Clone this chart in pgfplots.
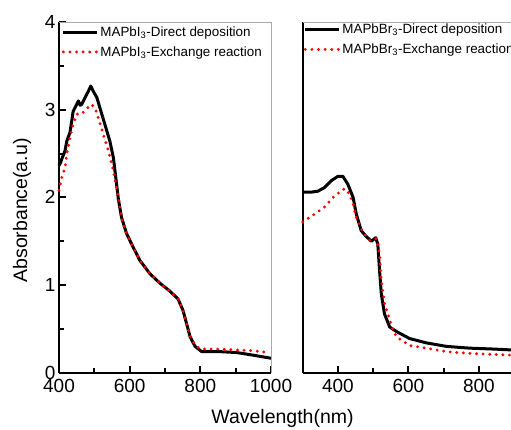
\documentclass[border=0pt]{standalone}
\usepackage{pgfplots}
\pgfplotsset{compat=1.18}
\usepackage{fontspec}
\setmainfont{Liberation Sans}
\definecolor{framegray}{RGB}{170,170,170}
\pgfplotsset{
  panel/.style={
    scale only axis, height=350.7pt,
    ymin=0, ymax=4,
    axis x line*=bottom, axis y line*=left,
    axis line style={line width=2.3pt,-},
    tick align=inside,
    major tick length=7pt, minor tick length=4.5pt,
    every tick/.style={black, line width=2pt},
    /pgf/number format/assume math mode=true,
    /pgf/number format/1000 sep={},
    tick label style={font=\fontsize{19}{19}\selectfont},
    xticklabel style={yshift=-2.5pt},
    clip=false,
    legend cell align=left,
    legend image code/.code={\draw[##1] (0pt,0pt) -- (34pt,0pt);},
    legend style={draw=none, fill=none, inner sep=0pt, row sep=0pt,
      font=\fontsize{13.4}{14}\selectfont,
      nodes={inner xsep=1.5pt, inner ysep=4.3pt}},
  },
  blk/.style={black, line width=3pt, line join=round},
  rdd/.style={red, line width=3.2pt, line cap=round, dash pattern=on 0pt off 6.6pt},
}
\begin{document}
\begin{tikzpicture}[x=1pt,y=1pt]
\path[use as bounding box] (0,0) rectangle (511,429);
% left panel
\begin{axis}[panel, at={(59pt,56.3pt)}, anchor=south west, width=212pt,
  xmin=400, xmax=1000,
  xtick={400,600,800,1000}, minor xtick={500,700,900},
  ytick={0,1,2,3,4}, minor ytick={0.5,1.5,2.5,3.5},
  legend style={at={(rel axis cs:0.012,1.0)}, anchor=north west}]
\addplot[blk] coordinates {
(400,2.36)(405,2.40)(408,2.44)(417,2.53)(422,2.64)(431,2.74)(436,2.87)(440,2.98)
(450,3.06)(455,3.10)(460,3.05)(464,3.06)(474,3.14)(483,3.21)(490,3.27)(497,3.21)
(507,3.14)(521,2.95)(530,2.83)(544,2.64)(554,2.45)(560,2.25)(568,1.98)(577,1.77)
(591,1.59)(610,1.43)(629,1.28)(657,1.13)(686,1.02)(714,0.93)(737,0.84)(751,0.71)
(761,0.56)(771,0.41)(785,0.30)(804,0.24)(856,0.24)(903,0.23)(949,0.20)(1000,0.165)};
\addlegendentry{MAPbI\textsubscript{3}-Direct deposition}
\addplot[rdd] coordinates {
(400,2.08)(405,2.18)(410,2.26)(417,2.33)(422,2.49)(431,2.68)(440,2.83)(450,2.95)
(464,2.95)(478,3.01)(492,3.06)(502,3.02)(511,2.91)(525,2.72)(540,2.53)(554,2.30)
(568,2.00)(577,1.77)(591,1.59)(610,1.43)(629,1.28)(657,1.13)(686,1.02)(714,0.93)
(737,0.84)(751,0.71)(761,0.56)(771,0.42)(785,0.32)(793,0.29)(810,0.27)(856,0.27)
(900,0.26)(949,0.25)(990,0.23)};
\addlegendentry{MAPbI\textsubscript{3}-Exchange reaction}
\draw[framegray, line width=0.8pt] (rel axis cs:0,1) -- (rel axis cs:1,1) -- (rel axis cs:1,0);
\end{axis}
% right panel
\begin{axis}[panel, at={(302.7pt,56.3pt)}, anchor=south west, width=208.3pt,
  xmin=300, xmax=891,
  xtick={400,600,800}, minor xtick={500,700},
  ytick=\empty,
  legend style={at={(rel axis cs:0.004,1.007)}, anchor=north west}]
\addplot[blk] coordinates {
(300,2.06)(325,2.06)(343,2.07)(361,2.11)(381,2.19)(400,2.24)(414,2.24)(428,2.15)
(443,2.00)(452,1.81)(466,1.62)(481,1.55)(495,1.50)(507,1.54)(513,1.47)(518,1.17)
(523,0.90)(532,0.67)(547,0.52)(566,0.47)(603,0.39)(651,0.34)(708,0.30)(774,0.28)
(840,0.27)(891,0.26)};
\addlegendentry{MAPbBr\textsubscript{3}-Direct deposition}
\addplot[rdd] coordinates {
(300,1.72)(334,1.81)(362,1.89)(391,2.02)(419,2.10)(433,2.04)(443,1.92)(452,1.77)
(471,1.60)(490,1.51)(509,1.53)(518,1.36)(523,1.05)(532,0.79)(547,0.60)(556,0.49)
(566,0.41)(603,0.31)(651,0.28)(708,0.24)(774,0.22)(891,0.20)};
\addlegendentry{MAPbBr\textsubscript{3}-Exchange reaction}
\draw[framegray, line width=0.8pt] (rel axis cs:0,1) -- (rel axis cs:1,1);
\end{axis}
\node[rotate=90, font=\fontsize{19.5}{20}\selectfont] at (22,218.5) {Absorbance(a.u)};
\node[font=\fontsize{19.5}{20}\selectfont] at (282.5,11) {Wavelength(nm)};
\end{tikzpicture}
\end{document}
